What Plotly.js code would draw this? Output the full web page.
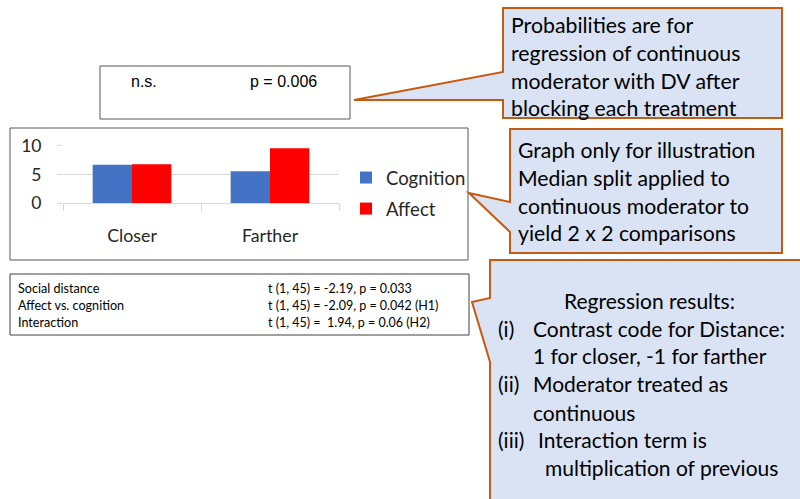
<!DOCTYPE html>
<html><head><meta charset="utf-8">
<script src="https://cdn.plot.ly/plotly-3.0.1.min.js"></script>
<style>html,body{margin:0;padding:0;background:#fff}#chart{width:800px;height:499px}</style>
</head><body><div id="chart"></div>
<script>
// ---- data ----
const categories = ["Closer", "Farther"];
const seriesNames = ["Cognition", "Affect"];
const cognition = [6.7, 5.55];
const affect = [6.8, 9.55];
const yTickVals = [0, 5, 10];
const pLabels = ["n.s.", "p = 0.006"];
const statLabels = ["Social distance", "Affect vs. cognition", "Interaction"];
const statValues = ["t (1, 45) = -2.19, p = 0.033", "t (1, 45) = -2.09, p = 0.042 (H1)", "t (1, 45) =\u00a0\u00a01.94, p = 0.06 (H2)"];
const note1Lines = ["Probabilities are for", "regression of continuous", "moderator with DV after", "blocking each treatment"];
const note2Lines = ["Graph only for illustration", "Median split applied to", "continuous moderator to", "yield 2 x 2 comparisons"];
const note3Title = "Regression results:";
const note3Items = [["(i)", "Contrast code for Distance:"], ["", "1 for closer, -1 for farther"], ["(ii)", "Moderator treated as"], ["", "continuous"], ["(iii)", "Interaction term is"], ["", "multiplication of previous"]];

// ---- helpers (pixel -> paper) ----
const W = 800, H = 499;
const px = x => x / W, py = y => 1 - y / H;
const FONT = "Lato, Carlito, Calibri, sans-serif";
const ARIAL = "'Liberation Sans', Arial, sans-serif";

function pathPx(pts) {
  return "M" + pts.map(p => px(p[0]).toFixed(5) + "," + py(p[1]).toFixed(5)).join(" L") + " Z";
}
function rectPx(x0, y0, x1, y1, color, width, fill) {
  return {type: "rect", xref: "paper", yref: "paper", x0: px(x0), x1: px(x1), y0: py(y1), y1: py(y0),
    line: {color: color, width: width}, fillcolor: fill || "rgba(0,0,0,0)", layer: "below"};
}
function txt(x, y, s, size, family, anchor) {
  return {xref: "paper", yref: "paper", x: px(x), y: py(y), text: s, showarrow: false,
    xanchor: anchor || "left", yanchor: "middle", borderpad: 0, borderwidth: 0,
    font: {size: size, family: family || FONT, color: "#000"}};
}

const calloutFill = "#dae3f3", calloutLine = "#c55a11";

const shapes = [
  rectPx(100, 66, 350, 119, "#595959", 1),
  rectPx(10, 128, 468, 260, "#595959", 1),
  rectPx(10, 274, 469, 335, "#404040", 1),
  {type: "path", xref: "paper", yref: "paper", layer: "below",
   path: pathPx([[503, 8], [782, 8], [782, 118], [503, 118], [503, 100], [354, 100], [503, 72]]),
   fillcolor: calloutFill, line: {color: calloutLine, width: 2}},
  {type: "path", xref: "paper", yref: "paper", layer: "below",
   path: pathPx([[510, 129], [782, 129], [782, 253], [510, 253], [510, 232], [469, 193], [510, 202]]),
   fillcolor: calloutFill, line: {color: calloutLine, width: 2}},
  {type: "path", xref: "paper", yref: "paper", layer: "below",
   path: pathPx([[490, 260], [812, 260], [812, 512], [490, 512], [490, 362], [472, 302], [490, 298]]),
   fillcolor: calloutFill, line: {color: calloutLine, width: 2}}
];

const annotations = [];
annotations.push(txt(131, 81, pLabels[0], 16, ARIAL));
annotations.push(txt(250, 81, pLabels[1], 16, ARIAL));
const statY = [288, 305, 322];
statLabels.forEach((s, i) => annotations.push(txt(18, statY[i], s, 12.6)));
statValues.forEach((s, i) => annotations.push(txt(268, statY[i], s, 12.5)));
const n1Y = [25, 53, 81, 108];
note1Lines.forEach((s, i) => annotations.push(txt(511, n1Y[i], s, 21.3)));
const n2Y = [150, 178, 206, 233];
note2Lines.forEach((s, i) => annotations.push(txt(518, n2Y[i], s, 21.2)));
annotations.push(txt(649, 300, note3Title, 21, FONT, "center"));
const n3Y = [328, 355, 383, 412, 439, 467];
const n3LabelX = [498, 498, 498, 498, 498, 498];
const n3TextX = [533, 533, 533, 533, 538, 545];
note3Items.forEach((it, i) => {
  if (it[0]) annotations.push(txt(n3LabelX[i], n3Y[i], it[0], 21));
  annotations.push(txt(n3TextX[i], n3Y[i], it[1], 21));
});

const traces = [
  {type: "bar", x: categories, y: cognition, name: seriesNames[0], marker: {color: "#4472c4"}, legendgroup: "a", hoverinfo: "none"},
  {type: "bar", x: categories, y: affect, name: seriesNames[1], marker: {color: "#ff0000"}, legendgroup: "b", hoverinfo: "none"}
];

const layout = {
  width: W, height: H,
  margin: {l: 0, r: 0, t: 0, b: 0, pad: 0},
  paper_bgcolor: "#fff", plot_bgcolor: "rgba(0,0,0,0)",
  barmode: "group", bargap: 0.43, bargroupgap: 0,
  showlegend: true,
  legend: {x: px(346), y: py(193.5), xanchor: "left", yanchor: "middle", traceorder: "grouped", tracegroupgap: 4,
    font: {size: 18.5, family: FONT, color: "#262626"}, bgcolor: "rgba(0,0,0,0)", borderwidth: 0},
  xaxis: {domain: [px(63), px(339)], type: "category", tickson: "boundaries", ticks: "outside", ticklen: 7,
    tickcolor: "#d9d9d9", showline: true, linecolor: "#d9d9d9", linewidth: 1, showgrid: false,
    tickfont: {size: 17.8, family: FONT, color: "#262626"}, ticklabelstandoff: 16, fixedrange: true},
  yaxis: {domain: [py(203.3), py(145.7)], range: [0, 10], tickvals: yTickVals, ticks: "outside", ticklen: 5,
    tickcolor: "#d9d9d9", showgrid: true, gridcolor: "#d9d9d9", zeroline: false, showline: false,
    tickfont: {size: 17.5, family: FONT, color: "#262626"}, ticklabelstandoff: 12, fixedrange: true},
  shapes: shapes,
  annotations: annotations
};

Plotly.newPlot("chart", traces, layout, {staticPlot: true, displayModeBar: false});
</script>
</body></html>
